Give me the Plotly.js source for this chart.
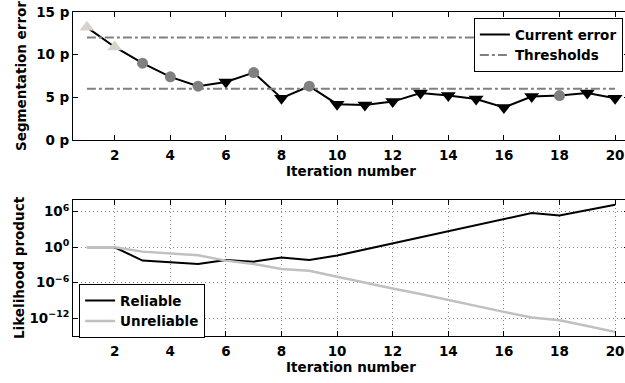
<!DOCTYPE html>
<html>
<head>
<meta charset="utf-8">
<script src="https://cdn.plot.ly/plotly-3.0.1.min.js"></script>
<style>
  html, body { margin: 0; padding: 0; overflow: hidden; background: #fff; }
  #chart { width: 630px; height: 383px; }
</style>
</head>
<body>
<div id="chart"></div>
<script>
// Iterations of the segmentation refinement
const iterations = [1, 2, 3, 4, 5, 6, 7, 8, 9, 10, 11, 12, 13, 14, 15, 16, 17, 18, 19, 20];

// Segmentation error per iteration (pixels)
const segError = [13.2, 10.9, 9.0, 7.4, 6.3, 6.8, 7.9, 4.9, 6.3, 4.2, 4.1, 4.5, 5.5, 5.2, 4.8, 3.8, 5.1, 5.2, 5.5, 4.9];

// Step kind of each iteration: "init", "keep" or "drop"
const stepKind = ["init", "init", "keep", "keep", "keep", "drop", "keep", "drop", "keep", "drop",
                  "drop", "drop", "drop", "drop", "drop", "drop", "drop", "keep", "drop", "drop"];

// Threshold levels (pixels)
const thresholds = [12, 6];

// Likelihood products (log10) per iteration
const reliableLog = [0, 0, -2.26, -2.55, -2.83, -2.15, -2.43, -1.75, -2.15, -1.41,
                     -0.4, 0.68, 1.7, 2.66, 3.73, 4.75, 5.77, 5.38, 6.28, 7.19];
const unreliableLog = [0, 0, -0.74, -1.02, -1.36, -2.26, -2.83, -3.68, -3.96, -4.98,
                       -6.0, -6.96, -7.9, -8.94, -9.94, -10.92, -11.88, -12.34, -13.3, -14.3];

// Tick labels
const xTicks = [2, 4, 6, 8, 10, 12, 14, 16, 18, 20];
const errTicks = [0, 5, 10, 15];
const errTickText = ["0 p", "5 p", "10 p", "15 p"];
const likeTickExp = [-12, -6, 0, 6];

const kindStyle = {
  init: { symbol: "triangle-up", color: "#d6d3cc", size: 13 },
  keep: { symbol: "circle", color: "#808080", size: 11 },
  drop: { symbol: "triangle-down", color: "#000000", size: 13 }
};

const font = { family: "DejaVu Sans, sans-serif", size: 13.5, color: "#000", weight: "bold" };

const first = iterations[0];
const last = iterations[iterations.length - 1];

const traces = [
  {
    x: iterations, y: segError, type: "scatter", mode: "lines",
    name: "Current error", line: { color: "#000", width: 2 },
    xaxis: "x", yaxis: "y", legend: "legend"
  },
  {
    x: iterations, y: segError, type: "scatter", mode: "markers",
    showlegend: false, hoverinfo: "skip",
    marker: {
      symbol: stepKind.map(k => kindStyle[k].symbol),
      color: stepKind.map(k => kindStyle[k].color),
      size: stepKind.map(k => kindStyle[k].size),
      opacity: 1,
      line: { width: 0 }
    },
    xaxis: "x", yaxis: "y"
  }
];

thresholds.forEach((t, i) => {
  traces.push({
    x: [first, last], y: [t, t], type: "scatter", mode: "lines",
    name: "Thresholds", showlegend: i === 0,
    line: { color: "#808080", width: 2, dash: "dashdot" },
    xaxis: "x", yaxis: "y", legend: "legend"
  });
});

traces.push({
  x: iterations, y: reliableLog.map(v => Math.pow(10, v)), type: "scatter", mode: "lines",
  name: "Reliable", line: { color: "#000", width: 2 },
  xaxis: "x2", yaxis: "y2", legend: "legend2"
});
traces.push({
  x: iterations, y: unreliableLog.map(v => Math.pow(10, v)), type: "scatter", mode: "lines",
  name: "Unreliable", line: { color: "#c0c0c0", width: 2.5 },
  xaxis: "x2", yaxis: "y2", legend: "legend2"
});

const axisBase = {
  showline: true, linecolor: "#000", linewidth: 1, mirror: "ticks",
  ticks: "inside", ticklen: 5, tickcolor: "#000",
  tickfont: font, zeroline: false
};

const gridStyle = { showgrid: true, gridcolor: "#8a8a8a", griddash: "1px,3px", gridwidth: 1 };

const legendFont = { family: font.family, size: 13.5, color: "#000", weight: "bold" };

const layout = {
  width: 630, height: 383,
  margin: { l: 73, r: 1, t: 12, b: 47 },
  paper_bgcolor: "#fff", plot_bgcolor: "#fff",
  font: font,
  showlegend: true,
  xaxis: Object.assign({}, axisBase, {
    domain: [0, 1], anchor: "y", range: [0.5, 20.5],
    tickvals: xTicks, showgrid: false, ticklabelstandoff: 3,
    title: { text: "Iteration number", font: font, standoff: 3 }
  }),
  yaxis: Object.assign({}, axisBase, {
    domain: [0.605, 1], anchor: "x", range: [0, 15],
    tickvals: errTicks, ticktext: errTickText, showgrid: false,
    title: { text: "Segmentation error", font: font, standoff: 6 }
  }),
  xaxis2: Object.assign({}, axisBase, gridStyle, {
    domain: [0, 1], anchor: "y2", range: [0.5, 20.5],
    tickvals: xTicks, ticklabelstandoff: 3,
    title: { text: "Iteration number", font: font, standoff: 3 }
  }),
  yaxis2: Object.assign({}, axisBase, gridStyle, {
    domain: [0, 0.42], anchor: "x2", type: "log", range: [-15, 8],
    tickvals: likeTickExp.map(e => Math.pow(10, e)),
    ticktext: likeTickExp.map(e => "10<sup>" + String(e).replace("-", "\u2212") + "</sup>"),
    title: { text: "Likelihood product", font: font, standoff: 1 }
  }),
  legend: {
    x: 0.721, y: 0.981, xanchor: "left", yanchor: "top",
    bgcolor: "#fff", bordercolor: "#000", borderwidth: 1,
    font: legendFont, tracegroupgap: 0
  },
  legend2: {
    x: 0.011, y: 0.16, xanchor: "left", yanchor: "top",
    bgcolor: "#fff", bordercolor: "#000", borderwidth: 1,
    font: legendFont, tracegroupgap: 0
  }
};

Plotly.newPlot("chart", traces, layout, { staticPlot: true, displayModeBar: false });
</script>
</body>
</html>
